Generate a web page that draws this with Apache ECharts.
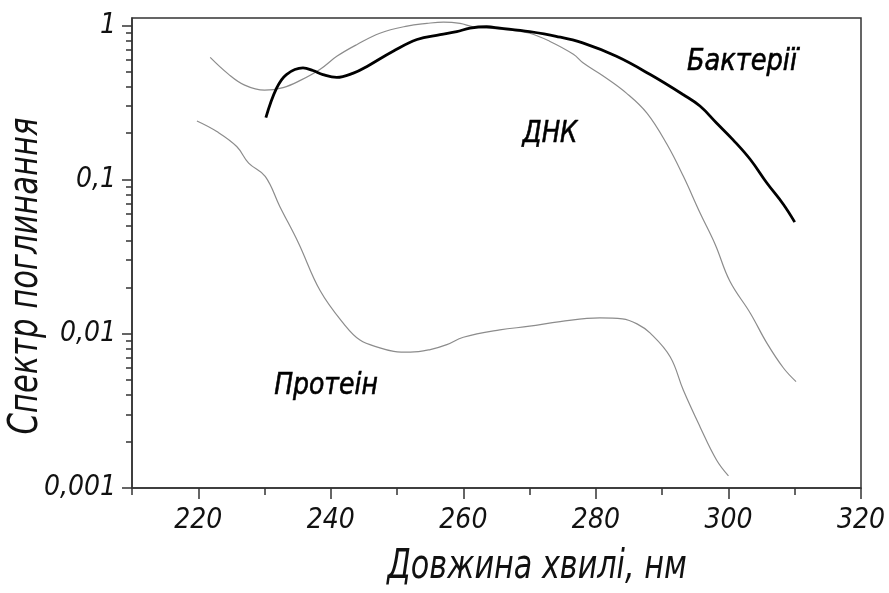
<!DOCTYPE html>
<html>
<head>
<meta charset="utf-8">
<script src="https://cdn.jsdelivr.net/npm/echarts@6/dist/echarts.min.js"></script>
<style>html,body{margin:0;padding:0;background:#fff;}#c{width:889px;height:593px;}</style>
</head>
<body>
<div id="c"></div>
<script>
// wavelength (nm) and absorbance values
const bactNm  = [230.2,231.8,233.3,235.8,237.3,238.8,240.9,243.4,245.4,249.4,253,256.5,259,261,263.5,265.5,270,274,278,283.1,288.2,293.2,295.7,298.2,300.7,303.3,305.8,308.3,310];
const bactVal = [0.252,0.39,0.48,0.53,0.51,0.48,0.46,0.49,0.54,0.68,0.81,0.87,0.91,0.96,0.98,0.96,0.91,0.85,0.77,0.63,0.48,0.355,0.30,0.233,0.181,0.135,0.095,0.069,0.053];

const dnaNm  = [221.8,224.5,227,230,232.8,235.4,238.4,240.9,243.9,247.4,251.5,254.5,257,259.5,261.5,264,267,270,273,276.6,278.1,281.1,284.6,287.7,290.7,293.2,295.7,298,300.2,303.3,305.8,308.3,310.2];
const dnaVal = [0.62,0.485,0.41,0.38,0.395,0.44,0.52,0.63,0.75,0.89,0.99,1.03,1.05,1.03,0.98,0.96,0.93,0.89,0.79,0.65,0.57,0.47,0.364,0.27,0.17,0.105,0.061,0.038,0.022,0.0136,0.0087,0.006,0.0049];

const protNm  = [219.8,222.8,225.8,227.6,230.1,232.3,235.1,238.4,242.1,244.4,247.4,249.5,252,255,257.5,260,265.5,270,274.6,280.6,284,286.2,288.2,291.2,293.2,295.7,298.2,300];
const protVal = [0.24,0.205,0.164,0.128,0.105,0.067,0.039,0.019,0.0114,0.0091,0.0081,0.0077,0.0076,0.0079,0.0085,0.0095,0.0106,0.0112,0.012,0.0127,0.0125,0.0116,0.0101,0.0071,0.0043,0.0025,0.00152,0.0012];

const xMajor = [220,240,260,280,300,320];
const xMinor = [210,230,250,270,290,310];
const yMajor = [0.001,0.01,0.1,1];
const yMinor = [0.002,0.003,0.004,0.005,0.006,0.007,0.008,0.009,0.02,0.03,0.04,0.05,0.06,0.07,0.08,0.09,0.2,0.3,0.4,0.5,0.6,0.7,0.8,0.9];

const labels = { x: 'Довжина хвилі, нм', y: 'Спектр поглинання', dna: 'ДНК', bact: 'Бактерії', prot: 'Протеін' };

const FONT = '"DejaVu Sans Condensed","DejaVu Sans",sans-serif';
const zip = (a, b) => a.map((v, i) => [v, b[i]]);
const axisCol = '#333';

const chart = echarts.init(document.getElementById('c'));
chart.setOption({
  animation: false,
  backgroundColor: '#fff',
  grid: { left: 132, right: 28, top: 18, bottom: 105, show: true, borderColor: axisCol, borderWidth: 1.5, backgroundColor: 'transparent' },
  xAxis: [
    { type: 'value', min: 210, max: 320, interval: 10, position: 'bottom',
      axisLine: { show: true, lineStyle: { color: axisCol, width: 1.5 } },
      axisTick: { show: true, customValues: xMajor, length: 11, lineStyle: { color: axisCol, width: 1.5 } },
      axisLabel: { customValues: xMajor, margin: 19, fontFamily: FONT, fontStyle: 'italic', fontSize: 28, color: '#111' },
      splitLine: { show: false } },
    { type: 'value', min: 210, max: 320, interval: 10, position: 'bottom',
      axisLine: { show: false },
      axisTick: { show: true, customValues: xMinor, length: 7, lineStyle: { color: axisCol, width: 1.5 } },
      axisLabel: { show: false }, splitLine: { show: false } }
  ],
  yAxis: [
    { type: 'log', logBase: 10, min: 0.001, max: 1.117, position: 'left',
      axisLine: { show: true, lineStyle: { color: axisCol, width: 1.5 } },
      axisTick: { show: true, customValues: yMajor, length: 10, lineStyle: { color: axisCol, width: 1.5 } },
      axisLabel: { customValues: yMajor, margin: 16, fontFamily: FONT, fontStyle: 'italic', fontSize: 28, color: '#111',
        formatter: v => String(+v.toPrecision(3)).replace('.', ',') },
      splitLine: { show: false } },
    { type: 'log', logBase: 10, min: 0.001, max: 1.117, position: 'left',
      axisLine: { show: false },
      axisTick: { show: true, customValues: yMinor, length: 6, lineStyle: { color: axisCol, width: 1.5 } },
      axisLabel: { show: false }, splitLine: { show: false } }
  ],
  series: [
    { name: labels.dna, type: 'line', data: zip(dnaNm, dnaVal), smooth: 0.4, symbol: 'none',
      lineStyle: { color: '#8c8c8c', width: 1.2 } },
    { name: labels.prot, type: 'line', data: zip(protNm, protVal), smooth: 0.4, symbol: 'none',
      lineStyle: { color: '#8c8c8c', width: 1.2 } },
    { name: labels.bact, type: 'line', data: zip(bactNm, bactVal), smooth: 0.4, symbol: 'none',
      lineStyle: { color: '#000', width: 2.8 } }
  ],
  graphic: [
    { type: 'text', x: 537, y: 568, scaleX: 0.84, style: { text: labels.x, fill: '#111', font: 'italic 40px ' + FONT, align: 'center', verticalAlign: 'middle' } },
    { type: 'text', x: 27, y: 276, rotation: Math.PI / 2, scaleX: 0.85, style: { text: labels.y, fill: '#111', font: 'italic 40px ' + FONT, align: 'center', verticalAlign: 'middle' } },
    { type: 'text', x: 550, y: 134, scaleX: 0.88, style: { text: labels.dna, fill: '#000', stroke: '#000', lineWidth: 0.6, font: 'italic 31px ' + FONT, align: 'center', verticalAlign: 'middle' } },
    { type: 'text', x: 742, y: 62, scaleX: 0.92, style: { text: labels.bact, fill: '#000', stroke: '#000', lineWidth: 0.6, font: 'italic 31px ' + FONT, align: 'center', verticalAlign: 'middle' } },
    { type: 'text', x: 326, y: 386, scaleX: 0.9, style: { text: labels.prot, fill: '#000', stroke: '#000', lineWidth: 0.6, font: 'italic 31px ' + FONT, align: 'center', verticalAlign: 'middle' } }
  ]
});
</script>
</body>
</html>
